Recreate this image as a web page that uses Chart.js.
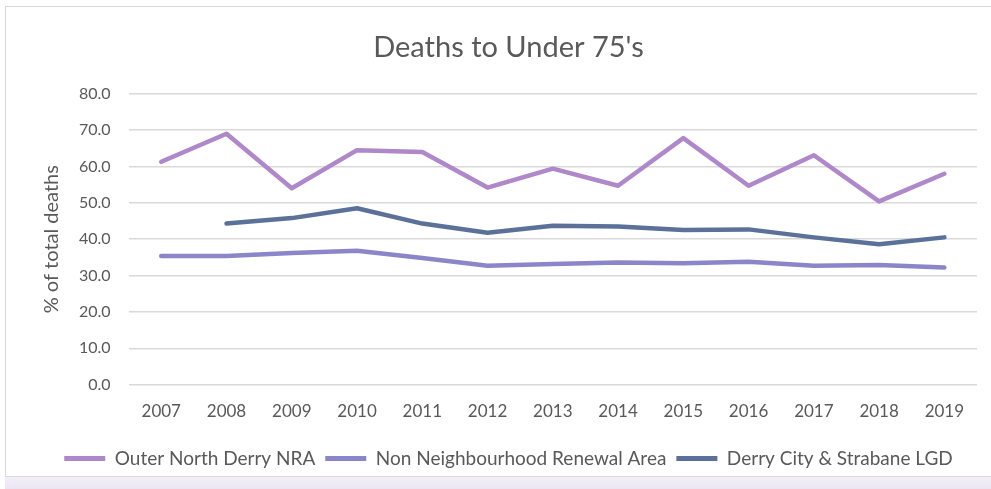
<!DOCTYPE html>
<html>
<head>
<meta charset="utf-8">
<script src="https://cdn.jsdelivr.net/npm/chart.js@4/dist/chart.umd.min.js"></script>
<style>
  html, body { margin: 0; padding: 0; background: #fff; }
  #wrap { width: 991px; height: 489px; position: relative; }
</style>
</head>
<body>
<div id="wrap"><canvas id="chart" width="991" height="489"></canvas></div>
<script>
// years along the x axis
const years = ['2007', '2008', '2009', '2010', '2011', '2012', '2013',
  '2014', '2015', '2016', '2017', '2018', '2019'];

// % of total deaths
const outerNorthDerry = [61.3, 69.0, 54.0, 64.5, 64.0, 54.2, 59.4, 54.7, 67.8, 54.7, 63.1, 50.4, 58.0];
const nonNeighbourhood = [35.4, 35.4, 36.2, 36.8, 34.8, 32.7, 33.2, 33.6, 33.4, 33.8, 32.7, 32.9, 32.2];
const derryStrabane = [null, 44.3, 45.8, 48.5, 44.3, 41.8, 43.7, 43.5, 42.5, 42.7, 40.5, 38.6, 40.5];

const seriesNames = ['Outer North Derry NRA', 'Non Neighbourhood Renewal Area', 'Derry City & Strabane LGD'];
const seriesColors = ['#ae88c8', '#8b86c9', '#5b7199'];

const textColor = '#595959';
const fontFamily = 'Lato, "Open Sans", sans-serif';

// white background, frame and the lavender strip along the bottom
const frame = {
  id: 'frame',
  beforeDraw(chart) {
    const ctx = chart.ctx;
    ctx.save();
    ctx.fillStyle = '#ffffff';
    ctx.fillRect(0, 0, chart.width, chart.height);
    const grad = ctx.createLinearGradient(0, 476, 0, 489);
    grad.addColorStop(0, '#f4f0f8');
    grad.addColorStop(1, '#ece4f3');
    ctx.fillStyle = grad;
    ctx.fillRect(5, 476, chart.width - 5, 13);
    ctx.strokeStyle = '#d9d9d9';
    ctx.lineWidth = 1;
    ctx.strokeRect(5.5, 6.5, chart.width, 470);
    ctx.restore();
  }
};

const datasets = [outerNorthDerry, nonNeighbourhood, derryStrabane].map((vals, i) => ({
  label: seriesNames[i],
  data: vals,
  borderColor: seriesColors[i],
  backgroundColor: seriesColors[i],
  borderWidth: 4.5,
  pointRadius: 0,
  pointHoverRadius: 0,
  tension: 0,
  borderCapStyle: 'round',
  borderJoinStyle: 'round',
  spanGaps: false
}));

new Chart(document.getElementById('chart'), {
  type: 'line',
  data: { labels: years, datasets: datasets },
  plugins: [frame],
  options: {
    responsive: false,
    animation: false,
    layout: { padding: { left: 40, right: 14, top: 20, bottom: 11 } },
    plugins: {
      title: {
        display: true,
        text: "Deaths to Under 75's",
        color: textColor,
        font: { family: fontFamily, size: 29, weight: 'normal' },
        padding: { top: 10, bottom: 29 }
      },
      legend: {
        position: 'bottom',
        labels: {
          color: textColor,
          font: { family: fontFamily, size: 19 },
          boxWidth: 41,
          boxHeight: 5,
          padding: 10,
          generateLabels(chart) {
            return chart.data.datasets.map((ds, i) => ({
              text: ds.label,
              fillStyle: ds.borderColor,
              strokeStyle: ds.borderColor,
              lineWidth: 0,
              fontColor: textColor,
              hidden: false,
              datasetIndex: i
            }));
          }
        }
      },
      tooltip: { enabled: false }
    },
    scales: {
      x: {
        offset: true,
        grid: { display: false, drawTicks: false },
        border: { display: false },
        ticks: {
          color: textColor,
          font: { family: fontFamily, size: 17 },
          padding: 17,
          maxRotation: 0
        }
      },
      y: {
        min: 0,
        max: 80,
        grid: { color: '#d9d9d9', lineWidth: 1.5, drawTicks: false },
        border: { display: false },
        ticks: {
          stepSize: 10,
          color: textColor,
          font: { family: fontFamily, size: 16 },
          padding: 18,
          callback: v => v.toFixed(1)
        },
        title: {
          display: true,
          text: '% of total deaths',
          color: textColor,
          font: { family: fontFamily, size: 20 },
          padding: { top: 0, bottom: -3 }
        }
      }
    }
  }
});
</script>
</body>
</html>
